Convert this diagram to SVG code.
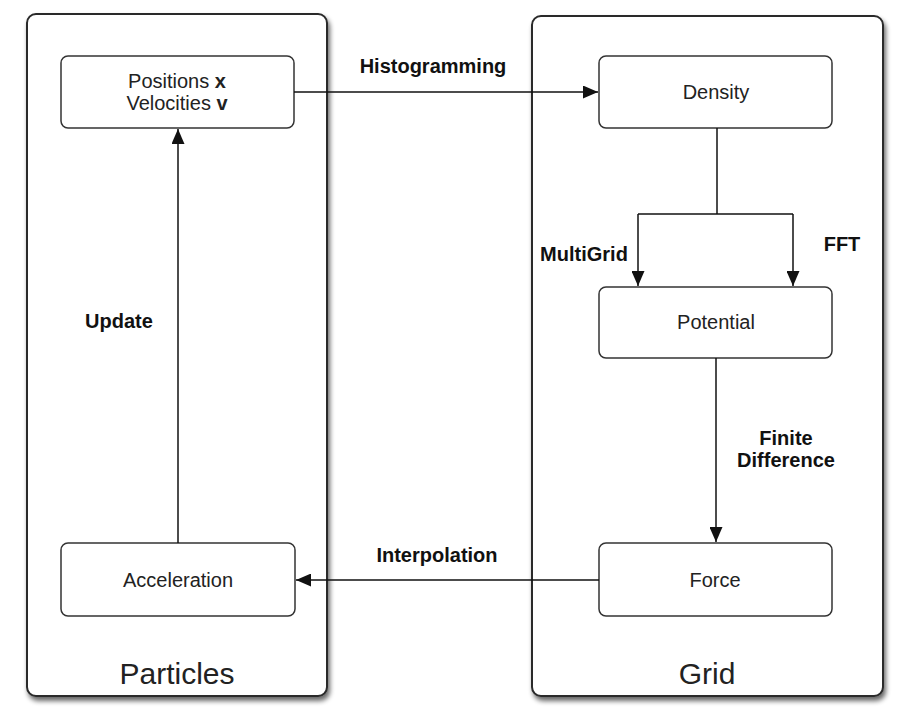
<svg xmlns="http://www.w3.org/2000/svg" width="898" height="710" viewBox="0 0 898 710">
<style>
.container{fill:#fff;stroke:#2a2a2a;stroke-width:2}
.node{fill:#fff;stroke:#333;stroke-width:1.5}
.ntext{font-family:"Liberation Sans",Arial,sans-serif;font-size:20px;fill:#222;text-anchor:middle}
.ctext{font-family:"Liberation Sans",Arial,sans-serif;font-size:30px;fill:#222;text-anchor:middle}
.label{font-family:"Liberation Sans",Arial,sans-serif;font-size:20px;font-weight:bold;fill:#111;text-anchor:middle}
.edge{fill:none;stroke:#111;stroke-width:1.5}
</style>
<defs>
<filter id="shadow" x="-10%" y="-10%" width="120%" height="120%">
<feGaussianBlur in="SourceAlpha" stdDeviation="2.5"/>
<feOffset dx="2" dy="4" result="b"/>
<feComponentTransfer><feFuncA type="linear" slope="0.6"/></feComponentTransfer>
<feMerge><feMergeNode/><feMergeNode in="SourceGraphic"/></feMerge>
</filter>
<marker id="arrow" markerUnits="userSpaceOnUse" markerWidth="16" markerHeight="13" refX="15" refY="6.5" orient="auto">
<path d="M0,0 L15,6.5 L0,13 z" fill="#111"/>
</marker>
</defs>
<g id="particles">
<rect class="container" x="27" y="14" width="300" height="682" rx="9" filter="url(#shadow)"/>
<text class="ctext" x="177" y="684">Particles</text>
</g>
<g id="grid">
<rect class="container" x="532" y="16" width="351" height="680" rx="9" filter="url(#shadow)"/>
<text class="ctext" x="707" y="684">Grid</text>
</g>
<g id="positions">
<rect class="node" x="61" y="56" width="233" height="72" rx="7"/>
<text class="ntext" x="177" y="88">Positions <tspan font-weight="bold">x</tspan></text>
<text class="ntext" x="177" y="110">Velocities <tspan font-weight="bold">v</tspan></text>
</g>
<g id="density">
<rect class="node" x="599" y="56" width="233" height="72" rx="7"/>
<text class="ntext" x="716" y="99">Density</text>
</g>
<g id="potential">
<rect class="node" x="599" y="287" width="233" height="71" rx="7"/>
<text class="ntext" x="716" y="329">Potential</text>
</g>
<g id="force">
<rect class="node" x="599" y="543" width="233" height="73" rx="7"/>
<text class="ntext" x="715" y="587">Force</text>
</g>
<g id="acceleration">
<rect class="node" x="61" y="543" width="234" height="73" rx="7"/>
<text class="ntext" x="178" y="587">Acceleration</text>
</g>
<g id="connectors">
<path class="edge" d="M294,92 H598" marker-end="url(#arrow)"/>
<path class="edge" d="M717,128 V214"/>
<path class="edge" d="M638,214 H793"/>
<path class="edge" d="M638,214 V286" marker-end="url(#arrow)"/>
<path class="edge" d="M793,214 V286" marker-end="url(#arrow)"/>
<path class="edge" d="M716,358 V542" marker-end="url(#arrow)"/>
<path class="edge" d="M599,580 H296" marker-end="url(#arrow)"/>
<path class="edge" d="M178,543 V129" marker-end="url(#arrow)"/>
<text class="label" x="433" y="73">Histogramming</text>
<text class="label" x="584" y="261">MultiGrid</text>
<text class="label" x="842" y="251">FFT</text>
<text class="label" x="786" y="445">Finite</text>
<text class="label" x="786" y="467">Difference</text>
<text class="label" x="119" y="328">Update</text>
<text class="label" x="437" y="562">Interpolation</text>
</g>
</svg>
